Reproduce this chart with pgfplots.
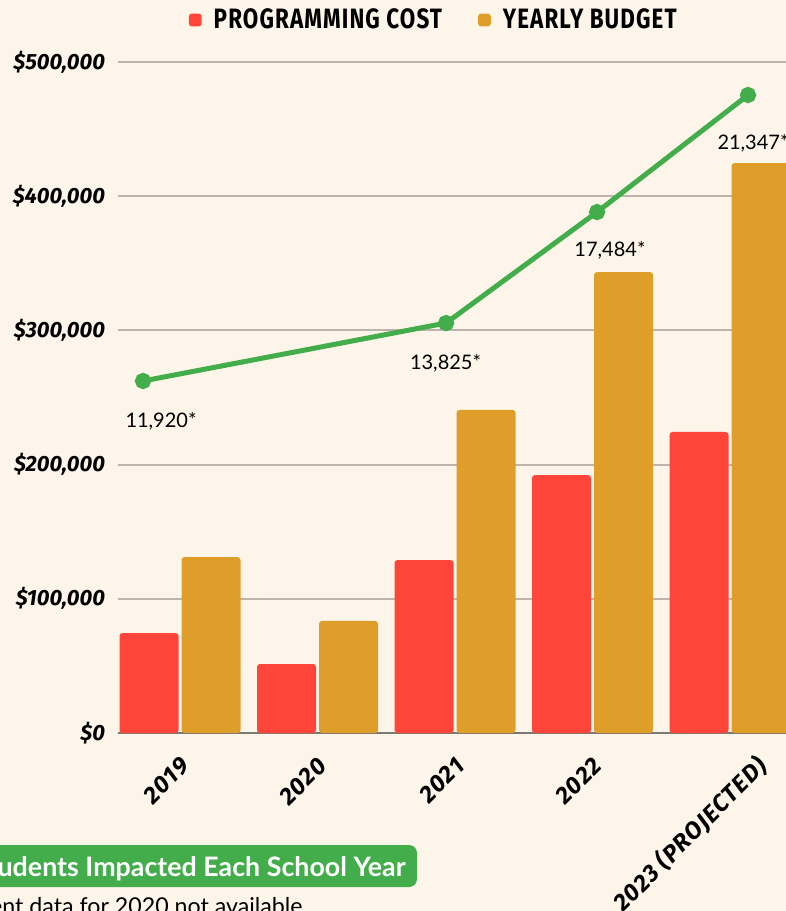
\documentclass[border=0pt]{standalone}
\usepackage{fontspec}
\setmainfont{Lato}
\newfontfamily\hand{Fira Sans}
\newfontfamily\handls{Fira Sans}[LetterSpace=5]
\usepackage{graphicx}
\usepackage{pgfplots}
\pgfplotsset{compat=1.18}
\definecolor{bg}{HTML}{FDF5E9}
\definecolor{cred}{HTML}{FF453A}
\definecolor{cgold}{HTML}{DE9E29}
\definecolor{cgreen}{HTML}{43AD4B}
\definecolor{cgrid}{HTML}{BDB5AB}
\definecolor{caxis}{HTML}{7C7872}
\begin{document}
\begin{tikzpicture}
\path[use as bounding box] (-59pt,-89pt) rectangle (334pt,366.5pt);
\clip (-59pt,-89pt) rectangle (334pt,366.5pt);
\fill[bg] (-59pt,-89pt) rectangle (334pt,366.5pt);
\begin{axis}[
  scale only axis, width=371pt, height=335.5pt,
  xmin=-0.4509, xmax=4.945, ymin=0, ymax=500000,
  axis lines*=left,
  x axis line style={caxis, line width=1pt},
  y axis line style={draw=none},
  ytick={0,100000,200000,300000,400000,500000},
  yticklabels={\$0,{\$100,000},{\$200,000},{\$300,000},{\$400,000},{\$500,000}},
  scaled y ticks=false,
  ymajorgrids, grid style={cgrid, line width=1pt},
  major tick length=0pt,
  yticklabel style={font=\hand\bfseries\itshape\fontsize{11}{11}\selectfont, anchor=east, xshift=-3pt},
  xtick={0,1,2,3}, xticklabels={2019,2020,2021,2022},
  extra x ticks={4.2}, extra x tick labels={2023 (PROJECTED)},
  extra x tick style={major tick length=0pt},
  xticklabel style={font=\handls\bfseries\itshape\fontsize{12}{12}\selectfont, xshift=5pt, yshift=-12pt, rotate=45, anchor=east},
  legend style={at={(0.427,1.0626)}, anchor=center, draw=none, fill=none,
    legend columns=2, font=\handls\bfseries\fontsize{14}{14}\selectfont,
    /tikz/every odd column/.append style={column sep=4pt},
    /tikz/every even column/.append style={column sep=16pt}},
  clip=false,
]
\addplot[ybar, bar width=29.5pt, bar shift=-15.5pt, fill=cred, draw=none, rounded corners=1.5pt,
  legend image code/.code={\fill[cred] (0pt,-3.2pt) rectangle (6.4pt,3.2pt);}]
  coordinates {(0,74500) (1,51400) (2,128900) (3,192200) (4,224300)};
\addplot[ybar, bar width=29.5pt, bar shift=15.5pt, fill=cgold, draw=none, rounded corners=1.5pt,
  legend image code/.code={\fill[cgold] (0pt,-3.2pt) rectangle (6.4pt,3.2pt);}]
  coordinates {(0,131100) (1,83500) (2,240700) (3,343500) (4,424700)};
\addplot[sharp plot, cgreen, line width=2.5pt, mark=*, mark size=2.8pt,
  mark options={fill=cgreen, draw=none}, forget plot]
  coordinates {(-0.269,262300) (1.935,305500) (3.033,388200) (4.131,475400)};
\legend{\scalebox{0.8}[1]{PROGRAMMING COST},\scalebox{0.8}[1]{YEARLY BUDGET}}
\node[font=\fontsize{10}{12}\selectfont] at (axis cs:-0.138,232500) {11,920*};
\node[font=\fontsize{10}{12}\selectfont] at (axis cs:1.931,275700) {13,825*};
\node[font=\fontsize{10}{12}\selectfont] at (axis cs:3.127,359900) {17,484*};
\node[font=\fontsize{10}{12}\selectfont] at (axis cs:4.167,439600) {21,347*};
\end{axis}
\fill[cgreen, rounded corners=4pt] (-70pt,-56pt) rectangle (149.5pt,-77pt);
\node[anchor=base east, text=white, font=\bfseries\fontsize{13.4}{13.4}\selectfont, inner sep=0pt] at (144pt,-71.5pt) {Number of Students Impacted Each School Year};
\node[anchor=base east, inner sep=0pt, font=\fontsize{11.6}{12}\selectfont] at (92.5pt,-90.5pt) {*Student data for 2020 not available};
\end{tikzpicture}
\end{document}
